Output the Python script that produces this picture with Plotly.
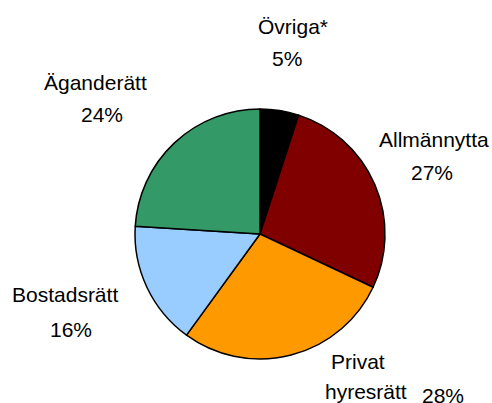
import plotly.graph_objects as go

categories = ["Övriga*", "Allmännytta", "Privat hyresrätt", "Bostadsrätt", "Äganderätt"]
values = [5, 27, 28, 16, 24]
pct_labels = ["5%", "27%", "28%", "16%", "24%"]
colors = ["#000000", "#800000", "#FF9900", "#99CCFF", "#339966"]

W, H = 492, 403

fig = go.Figure()
fig.add_trace(go.Pie(
    labels=categories,
    values=values,
    sort=False,
    direction="clockwise",
    rotation=0,
    marker=dict(colors=colors, line=dict(color="#000000", width=1.5)),
    textinfo="none",
    hoverinfo="skip",
    showlegend=False,
    domain=dict(x=[135 / W, 385 / W], y=[1 - 361 / H, 1 - 107 / H]),
))

# label placements (pixel centers)
name_pos = {
    "Övriga*": [(293, 27, "Övriga*")],
    "Allmännytta": [(434, 140, "Allmännytta")],
    "Privat hyresrätt": [(358, 361, "Privat"), (366, 391, "hyresrätt")],
    "Bostadsrätt": [(65, 294, "Bostadsrätt")],
    "Äganderätt": [(95, 82, "Äganderätt")],
}
pct_pos = [(287, 59), (432, 172), (443, 395), (71, 329), (102, 114)]

font = dict(family="Liberation Sans, Arial, sans-serif", size=21, color="#000000")
ann = []
for cat, pct, (px, py) in zip(categories, pct_labels, pct_pos):
    for (x, y, t) in name_pos[cat]:
        ann.append(dict(x=x / W, y=1 - y / H, xref="paper", yref="paper", text=t,
                        showarrow=False, font=font, xanchor="center", yanchor="middle"))
    ann.append(dict(x=px / W, y=1 - py / H, xref="paper", yref="paper", text=pct,
                    showarrow=False, font=font, xanchor="center", yanchor="middle"))

fig.update_layout(
    width=W, height=H,
    margin=dict(l=0, r=0, t=0, b=0),
    paper_bgcolor="#FFFFFF",
    plot_bgcolor="#FFFFFF",
    annotations=ann,
)

fig.write_html(
    "out.html",
    config={"displayModeBar": False},
    post_script="document.body.style.margin='0';document.body.style.overflow='hidden';",
)
